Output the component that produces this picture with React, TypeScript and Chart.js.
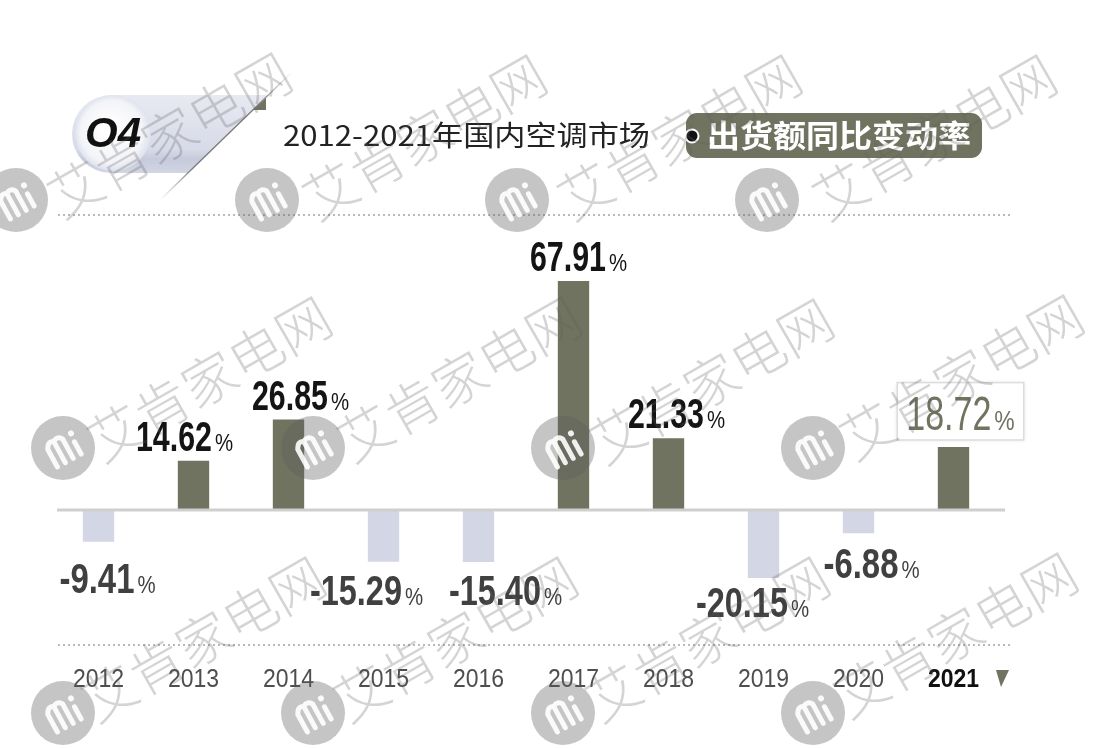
import React, { useEffect, useRef } from "react";
import { Chart, registerables } from "chart.js";

Chart.register(...registerables);

const YEARS = ["2012", "2013", "2014", "2015", "2016", "2017", "2018", "2019", "2020", "2021"];
const VALUES = [-9.41, 14.62, 26.85, -15.29, -15.4, 67.91, 21.33, -20.15, -6.88, 18.72];
const TITLE_MAIN = "2012-2021年国内空调市场";
const TITLE_TAG = "出货额同比变动率";
const BADGE = "O4";
const WATERMARK = "艾肯家电网";
const HIGHLIGHT_INDEX = 9;

// label layout tweaks (styling, not data)
const LABEL_NUDGE_X = [9, -9, 12, -17, 27, 5, 8, -11, 13, 7];
const LABEL_NUDGE_Y = [8, 0, 0, 0, 0, 0, 0, -4, 2, 0];

const OLIVE = "#6f735f";
const LAVENDER = "#d3d7e5";

function drawScaled(ctx: CanvasRenderingContext2D, text: string, left: number, y: number, font: string, sx: number) {
  ctx.save();
  ctx.font = font;
  ctx.translate(left, y);
  ctx.scale(sx, 1);
  ctx.textAlign = "left";
  ctx.fillText(text, 0, 0);
  ctx.restore();
}

function numScale(ctx: CanvasRenderingContext2D, text: string, font: string, digitW: number, dotW: number, minusW: number) {
  ctx.save();
  ctx.font = font;
  const w0 = ctx.measureText(text).width;
  ctx.restore();
  let target = 0;
  for (const ch of text) {
    if (ch >= "0" && ch <= "9") target += digitW;
    else if (ch === ".") target += dotW;
    else if (ch === "-") target += minusW;
  }
  return { sx: target / w0, w: target };
}

const decorPlugin = {
  id: "decor",
  beforeDraw(chart: any) {
    const ctx: CanvasRenderingContext2D = chart.ctx;
    ctx.save();
    ctx.fillStyle = "#ffffff";
    ctx.fillRect(0, 0, chart.width, chart.height);
    ctx.restore();
  },
  afterDatasetsDraw(chart: any) {
    const ctx: CanvasRenderingContext2D = chart.ctx;
    const x = chart.scales.x;
    const y = chart.scales.y;
    const area = chart.chartArea;
    const meta = chart.getDatasetMeta(0);

    // dotted frame lines
    ctx.save();
    ctx.strokeStyle = "#b9b9b9";
    ctx.lineWidth = 2;
    ctx.setLineDash([2, 3]);
    [area.top, area.bottom].forEach((yy: number) => {
      ctx.beginPath();
      ctx.moveTo(58, yy);
      ctx.lineTo(1012, yy);
      ctx.stroke();
    });
    ctx.restore();

    // zero baseline
    const y0 = y.getPixelForValue(0);
    ctx.save();
    ctx.strokeStyle = "#cfcfcf";
    ctx.lineWidth = 3;
    ctx.beginPath();
    ctx.moveTo(57, y0);
    ctx.lineTo(1005, y0);
    ctx.stroke();
    ctx.restore();

    // value labels
    ctx.save();
    ctx.textBaseline = "alphabetic";
    VALUES.forEach((v, i) => {
      const bar = meta.data[i];
      const cx = bar.x + LABEL_NUDGE_X[i];
      const hi = i === HIGHLIGHT_INDEX;
      const size = hi ? 48 : 42;
      const txt = v.toFixed(2);
      const numFont = hi
        ? `normal ${size}px "Liberation Sans Narrow", "Liberation Sans", sans-serif`
        : `bold ${size}px "Liberation Sans Narrow", "Liberation Sans", sans-serif`;
      const { sx, w } = numScale(ctx, txt, numFont, hi ? 19 : 17, hi ? 9 : 8, 16);
      const pctFont = `normal ${hi ? 27 : 24}px "Liberation Sans", sans-serif`;
      ctx.font = pctFont;
      const pw = ctx.measureText("%").width * 0.85;
      const total = w + 3 + pw;
      const left = cx - total / 2;
      const cap = size * 0.716;
      let base: number;
      if (v >= 0) {
        base = bar.y - (hi ? 17 : 10) + LABEL_NUDGE_Y[i];
      } else {
        base = bar.y + 13 + cap + LABEL_NUDGE_Y[i];
      }
      if (hi) {
        ctx.save();
        ctx.shadowColor = "rgba(0,0,0,0.12)";
        ctx.shadowBlur = 4;
        ctx.fillStyle = "#ffffff";
        ctx.fillRect(left - 9, base - cap - 13, total + 18, cap + 23);
        ctx.restore();
        ctx.strokeStyle = "#dcdcdc";
        ctx.lineWidth = 1.5;
        ctx.strokeRect(left - 9, base - cap - 13, total + 18, cap + 23);
      }
      const color = hi ? OLIVE : v >= 0 ? "#141414" : "#404040";
      ctx.fillStyle = color;
      drawScaled(ctx, txt, left, base, numFont, sx);
      drawScaled(ctx, "%", left + w + 3, base, pctFont, 0.85);
    });
    ctx.restore();

    // year labels
    ctx.save();
    YEARS.forEach((yr, i) => {
      const cx = x.getPixelForValue(i);
      const hi = i === HIGHLIGHT_INDEX;
      const font = hi
        ? `bold 26px "Liberation Sans Narrow", "Liberation Sans", sans-serif`
        : `normal 26px "Liberation Sans Narrow", "Liberation Sans", sans-serif`;
      const { sx, w } = numScale(ctx, yr, font, 12.8, 0, 0);
      ctx.fillStyle = hi ? "#111111" : "#4e4e4e";
      drawScaled(ctx, yr, cx - w / 2, 687, font, sx);
    });
    ctx.fillStyle = OLIVE;
    ctx.beginPath();
    ctx.moveTo(996, 670);
    ctx.lineTo(1009, 670);
    ctx.lineTo(1001, 687);
    ctx.closePath();
    ctx.fill();
    ctx.restore();
  },
  afterDraw(chart: any) {
    const ctx: CanvasRenderingContext2D = chart.ctx;

    // ---- badge ----
    ctx.save();
    ctx.fillStyle = OLIVE;
    ctx.beginPath();
    ctx.moveTo(252, 95);
    ctx.lineTo(266, 95);
    ctx.lineTo(266, 110);
    ctx.lineTo(246, 110);
    ctx.closePath();
    ctx.fill();

    const g = ctx.createLinearGradient(0, 95, 0, 173);
    g.addColorStop(0, "#e8eaf2");
    g.addColorStop(0.7, "#d7dae8");
    g.addColorStop(0.82, "#c6cadb");
    g.addColorStop(1, "#d2d5e3");
    ctx.fillStyle = g;
    ctx.beginPath();
    ctx.moveTo(111, 95);
    ctx.lineTo(269, 95);
    ctx.lineTo(188, 173);
    ctx.lineTo(111, 173);
    ctx.arc(111, 134, 39, Math.PI / 2, (Math.PI * 3) / 2);
    ctx.closePath();
    ctx.fill();

    const rg = ctx.createRadialGradient(108, 128, 5, 113, 133, 40);
    rg.addColorStop(0, "#ffffff");
    rg.addColorStop(0.75, "#f3f4f8");
    rg.addColorStop(1, "#d9dcea");
    ctx.fillStyle = rg;
    ctx.beginPath();
    ctx.arc(113, 133, 38, 0, Math.PI * 2);
    ctx.fill();

    const lg = ctx.createLinearGradient(292, 72, 160, 200);
    lg.addColorStop(0, "rgba(120,120,120,0)");
    lg.addColorStop(0.25, "rgba(110,110,110,0.9)");
    lg.addColorStop(0.75, "rgba(110,110,110,0.9)");
    lg.addColorStop(1, "rgba(120,120,120,0)");
    ctx.strokeStyle = lg;
    ctx.lineWidth = 1.3;
    ctx.beginPath();
    ctx.moveTo(292, 72);
    ctx.lineTo(158, 202);
    ctx.stroke();

    ctx.fillStyle = "#111111";
    ctx.font = `italic bold 42px "Liberation Sans", "DejaVu Sans", sans-serif`;
    ctx.textAlign = "center";
    ctx.textBaseline = "middle";
    ctx.fillText(BADGE, 113, 135);
    ctx.restore();

    // ---- title ----
    ctx.save();
    ctx.fillStyle = "#222222";
    ctx.textBaseline = "alphabetic";
    const tFont = `normal 28px "Noto Sans CJK SC", sans-serif`;
    ctx.font = tFont;
    const tw = ctx.measureText(TITLE_MAIN).width;
    drawScaled(ctx, TITLE_MAIN, 283, 146, tFont, 367 / tw);

    ctx.fillStyle = OLIVE;
    ctx.beginPath();
    (ctx as any).roundRect(686, 113, 296, 45, 11);
    ctx.fill();
    ctx.fillStyle = "#111111";
    ctx.strokeStyle = "#ffffff";
    ctx.lineWidth = 2;
    ctx.beginPath();
    ctx.arc(692, 136, 6.5, 0, Math.PI * 2);
    ctx.fill();
    ctx.stroke();
    ctx.fillStyle = "#ffffff";
    const pFont = `bold 31px "Noto Sans CJK SC", sans-serif`;
    ctx.font = pFont;
    const pw = ctx.measureText(TITLE_TAG).width;
    drawScaled(ctx, TITLE_TAG, 707, 147, pFont, 264 / pw);
    ctx.restore();

    // ---- watermarks ----
    const textPos = [
      [78, 190], [333, 192], [588, 192], [843, 192],
      [118, 434], [368, 434], [620, 436], [870, 432],
      [112, 694], [364, 694], [616, 694], [864, 690],
    ];
    const logoPos = [
      [16, 200], [267, 200], [517, 200], [767, 200],
      [63, 448], [313, 448], [563, 448], [813, 448],
      [63, 713], [313, 713], [563, 713], [813, 713],
    ];
    ctx.save();
    ctx.fillStyle = "rgba(95,95,95,0.36)";
    logoPos.forEach(([lx, ly]) => {
      ctx.beginPath();
      ctx.arc(lx, ly, 32, 0, Math.PI * 2);
      ctx.fill();
    });
    ctx.strokeStyle = "rgba(255,255,255,0.9)";
    ctx.lineWidth = 5;
    ctx.lineCap = "round";
    logoPos.forEach(([lx, ly]) => {
      ctx.save();
      ctx.translate(lx, ly);
      ctx.rotate(-0.5);
      ctx.beginPath();
      ctx.moveTo(-14, 14); ctx.lineTo(-14, -6);
      ctx.moveTo(-5, 14); ctx.lineTo(-5, -10);
      ctx.moveTo(4, 14); ctx.lineTo(4, -8);
      ctx.moveTo(13, 14); ctx.lineTo(13, 0);
      ctx.moveTo(-14, -6); ctx.quadraticCurveTo(-10, -14, -5, -10);
      ctx.moveTo(-5, -10); ctx.quadraticCurveTo(0, -14, 4, -8);
      ctx.stroke();
      ctx.beginPath();
      ctx.arc(14, -9, 3, 0, Math.PI * 2);
      ctx.fillStyle = "rgba(255,255,255,0.9)";
      ctx.fill();
      ctx.restore();
    });
    ctx.fillStyle = "rgba(95,95,95,0.27)";
    ctx.font = `300 54px "Noto Sans CJK SC", sans-serif`;
    ctx.textAlign = "left";
    ctx.textBaseline = "middle";
    textPos.forEach(([tx, ty]) => {
      ctx.save();
      ctx.translate(tx - 26, ty + 12);
      ctx.rotate(-0.52);
      ctx.fillText(WATERMARK, 0, 0);
      ctx.restore();
    });
    ctx.restore();
  },
};

export default function App() {
  const ref = useRef<HTMLCanvasElement | null>(null);
  useEffect(() => {
    if (!ref.current) return;
    const chart = new Chart(ref.current, {
      type: "bar",
      data: {
        labels: YEARS,
        datasets: [
          {
            data: VALUES,
            backgroundColor: VALUES.map((v) => (v >= 0 ? OLIVE : LAVENDER)),
            borderWidth: 0,
            barPercentage: 0.33,
            categoryPercentage: 1,
          },
        ],
      },
      options: {
        responsive: false,
        animation: false,
        devicePixelRatio: 1,
        layout: { padding: { left: 51, right: 107, top: 215, bottom: 103 } },
        scales: {
          x: { display: false, offset: true, grid: { display: false } },
          y: { display: false, min: -40, max: 87.5 },
        },
        plugins: { legend: { display: false }, tooltip: { enabled: false } },
      },
      plugins: [decorPlugin],
    } as any);
    return () => chart.destroy();
  }, []);
  return (
    <div style={{ position: "absolute", left: 0, top: 0, width: 1108, height: 748, background: "#fff" }}>
      <canvas ref={ref} width={1108} height={748} style={{ display: "block" }} />
    </div>
  );
}
